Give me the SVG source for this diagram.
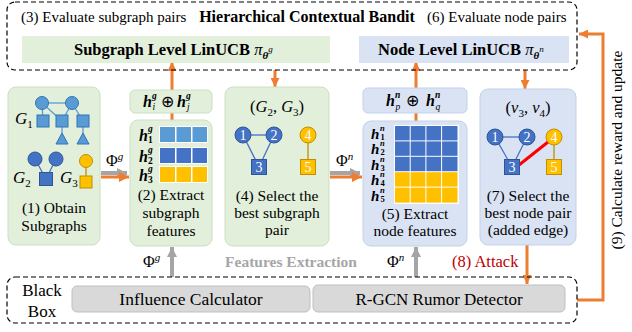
<svg xmlns="http://www.w3.org/2000/svg" width="632" height="332" viewBox="0 0 632 332" font-family="'Liberation Serif','Times New Roman',serif" font-size="15.5">
<style>
.t{font-family:'Liberation Serif','Times New Roman',serif;fill:#000}
.b{font-weight:bold}
.i{font-style:italic}
.bi{font-weight:bold;font-style:italic}
.dash{fill:none;stroke:#000;stroke-width:1.2;stroke-dasharray:5 3}
.gbox{fill:#e2efda;stroke:#cddfc0;stroke-width:1}
.bbox{fill:#dae3f3;stroke:#c3d1ea;stroke-width:1}
.kbox{fill:#d9d9d9;stroke:#bfbfbf;stroke-width:1}
.ol{stroke:#ed7d31;stroke-width:3;fill:none}
.gl{stroke:#a5a5a5;stroke-width:4;fill:none}
.e1{stroke:#5b9bd5;stroke-width:1.3}
.e2{stroke:#4472c4;stroke-width:1.3}
.e3{stroke:#bf9000;stroke-width:1.3}
.n1{fill:#5b9bd5;stroke:#2e75b6;stroke-width:1}
.n2{fill:#4472c4;stroke:#2f5597;stroke-width:1}
.n3{fill:#ffc000;stroke:#bf9000;stroke-width:1}
.num{font-family:'Liberation Serif','Times New Roman',serif;fill:#fff;text-anchor:middle}
.c1{fill:#5b9bd5}.c2{fill:#4472c4}.c3{fill:#ffc000}
</style>
<defs>
<marker id="ao" viewBox="0 0 10 10" refX="10" refY="5" markerWidth="10" markerHeight="9" markerUnits="userSpaceOnUse" orient="auto"><path d="M0,0 L10,5 L0,10 z" fill="#ed7d31"/></marker>
<marker id="ag" viewBox="0 0 10 10" refX="10" refY="5" markerWidth="10" markerHeight="11" markerUnits="userSpaceOnUse" orient="auto"><path d="M0,0 L10,5 L0,10 z" fill="#a5a5a5"/></marker>
<marker id="ao2" viewBox="0 0 10 10" refX="10" refY="5" markerWidth="10" markerHeight="11" markerUnits="userSpaceOnUse" orient="auto"><path d="M0,0 L10,5 L0,10 z" fill="#ed7d31"/></marker>
</defs>

<!-- connectors -->
<g id="connectors">
<line class="ol" x1="172" y1="120" x2="172" y2="62" marker-end="url(#ao)"/>
<line class="ol" x1="275" y1="70" x2="275" y2="87" marker-end="url(#ao)"/>
<line class="ol" x1="416" y1="121" x2="416" y2="62" marker-end="url(#ao)"/>
<line class="ol" x1="525" y1="70" x2="525" y2="89" marker-end="url(#ao)"/>
<line class="gl" x1="101" y1="173" x2="127" y2="173" marker-end="url(#ag)"/>
<line class="ol" x1="101" y1="177" x2="129" y2="177" stroke-width="4" marker-end="url(#ao2)"/>
<line class="gl" x1="330" y1="173" x2="360" y2="173" marker-end="url(#ag)"/>
<line class="ol" x1="330" y1="177" x2="362" y2="177" stroke-width="4" marker-end="url(#ao2)"/>
<line class="gl" x1="172" y1="277" x2="172" y2="247" marker-end="url(#ag)"/>
<line class="gl" x1="416" y1="277" x2="416" y2="247" marker-end="url(#ag)"/>
<line class="ol" x1="527" y1="245" x2="527" y2="284" marker-end="url(#ao)"/>
<path class="ol" d="M577,300 H603 V34 H579" marker-end="url(#ao)"/>
<text class="t" x="106" y="166" font-size="16">Φ<tspan class="i" font-size="11" dy="-6">g</tspan></text>
<text class="t" x="336" y="166" font-size="16">Φ<tspan class="i" font-size="11" dy="-6">n</tspan></text>
<text class="t" x="143" y="267" font-size="16">Φ<tspan class="i" font-size="11" dy="-6">g</tspan></text>
<text class="t" x="387" y="267" font-size="16">Φ<tspan class="i" font-size="11" dy="-6">n</tspan></text>
<text class="t" x="622" y="150" text-anchor="middle" font-size="15.5" transform="rotate(-90 622 150)">(9) Calculate reward and update</text>
<text class="t b" x="291" y="267" text-anchor="middle" font-size="15.5" style="fill:#a6a6a6">Features Extraction</text>
<text class="t" x="452" y="267" font-size="16.5" style="fill:#c00000">(8) Attack</text>
</g>

<!-- top bandit -->
<g id="bandit">
<rect class="dash" x="7" y="2" width="570" height="68" rx="8"/>
<text class="t" x="21" y="22" font-size="15">(3) Evaluate subgraph pairs</text>
<text class="t b" x="307" y="22" text-anchor="middle" font-size="16">Hierarchical Contextual Bandit</text>
<text class="t" x="427" y="22" font-size="15">(6) Evaluate node pairs</text>
</g>
<g id="subgraph-linucb">
<rect x="22" y="36" width="308" height="27" fill="#e2efda"/>
<text class="t b" x="74" y="55" font-size="16.5">Subgraph Level LinUCB <tspan class="i" font-weight="normal">π</tspan><tspan class="bi" font-size="11" dy="4">θ</tspan><tspan class="i" font-weight="normal" font-size="9" dy="-7">g</tspan></text>
</g>
<g id="node-linucb">
<rect x="359" y="36" width="210" height="27" fill="#dae3f3"/>
<text class="t b" x="378" y="55" font-size="16.5">Node Level LinUCB <tspan class="i" font-weight="normal">π</tspan><tspan class="bi" font-size="11" dy="4">θ</tspan><tspan class="i" font-weight="normal" font-size="9" dy="-7">n</tspan></text>
</g>

<!-- (1) obtain subgraphs -->
<g id="obtain">
<rect class="gbox" x="8" y="87" width="92" height="158" rx="8"/>
<g>
<line class="e1" x1="42" y1="103" x2="72" y2="103"/>
<line class="e1" x1="42" y1="103" x2="43" y2="121"/>
<line class="e1" x1="42" y1="103" x2="62" y2="121"/>
<line class="e1" x1="72" y1="103" x2="62" y2="121"/>
<line class="e1" x1="72" y1="103" x2="83" y2="121"/>
<line class="e1" x1="62" y1="121" x2="62" y2="139"/>
<line class="e1" x1="83" y1="121" x2="83" y2="139"/>
<circle class="n1" cx="42" cy="103" r="6.5"/>
<circle class="n1" cx="72" cy="103" r="6.5"/>
<rect class="n1" x="37" y="115" width="12" height="12"/>
<rect class="n1" x="56" y="115" width="12" height="12"/>
<rect class="n1" x="77" y="115" width="12" height="12"/>
<path class="n1" d="M62,133 L68,144 L56,144 z"/>
<path class="n1" d="M83,133 L89,144 L77,144 z"/>
</g>
<text class="t i" x="15" y="124" font-size="17">G<tspan font-size="11" dy="4" font-style="normal">1</tspan></text>
<g>
<line class="e2" x1="35" y1="159" x2="46" y2="179"/>
<line class="e2" x1="56" y1="159" x2="46" y2="179"/>
<circle class="n2" cx="35" cy="159" r="7"/>
<circle class="n2" cx="56" cy="159" r="7"/>
<rect class="n2" x="39.5" y="172.5" width="13" height="13"/>
<line class="e3" x1="86" y1="161" x2="86" y2="182"/>
<circle class="n3" cx="86" cy="161" r="6.5"/>
<rect class="n3" x="80" y="176" width="12" height="12"/>
</g>
<text class="t i" x="13" y="183" font-size="17">G<tspan font-size="11" dy="4" font-style="normal">2</tspan></text>
<text class="t i" x="60" y="183" font-size="17">G<tspan font-size="11" dy="4" font-style="normal">3</tspan></text>
<text class="t" x="54" y="213" text-anchor="middle">(1) Obtain</text>
<text class="t" x="54" y="231" text-anchor="middle">Subgraphs</text>
</g>

<!-- h_i ⊕ h_j -->
<g id="concat-g">
<rect class="gbox" x="130" y="90" width="82" height="23" rx="5"/>
<text class="t bi" x="143" y="107" font-size="16">h</text>
<text class="t bi" x="152" y="99" font-size="9.5">g</text>
<text class="t i" x="152.5" y="110" font-size="9.5">i</text>
<text class="t" x="161" y="107" font-size="16">⊕</text>
<text class="t bi" x="177" y="107" font-size="16">h</text>
<text class="t bi" x="186" y="99" font-size="9.5">g</text>
<text class="t i" x="187" y="110" font-size="9.5">j</text>
</g>

<!-- (2) extract subgraph features -->
<g id="extract-g">
<rect class="gbox" x="130" y="120" width="82" height="126" rx="8"/>
<rect x="159" y="126" width="49" height="17" fill="#fff"/>
<rect class="c1" x="160" y="127" width="15" height="15"/><rect class="c1" x="176.5" y="127" width="14.5" height="15"/><rect class="c1" x="192.5" y="127" width="14.5" height="15"/>
<rect x="159" y="147" width="49" height="17" fill="#fff"/>
<rect class="c2" x="160" y="148" width="15" height="15"/><rect class="c2" x="176.5" y="148" width="14.5" height="15"/><rect class="c2" x="192.5" y="148" width="14.5" height="15"/>
<rect x="159" y="166" width="49" height="17" fill="#fff"/>
<rect class="c3" x="160" y="167" width="15" height="15"/><rect class="c3" x="176.5" y="167" width="14.5" height="15"/><rect class="c3" x="192.5" y="167" width="14.5" height="15"/>
<text class="t bi" x="139" y="141" font-size="16">h</text><text class="t bi" x="148" y="132" font-size="9.5">g</text><text class="t b" x="148" y="143" font-size="9.5">1</text>
<text class="t bi" x="139" y="162" font-size="16">h</text><text class="t bi" x="148" y="153" font-size="9.5">g</text><text class="t b" x="148" y="164" font-size="9.5">2</text>
<text class="t bi" x="139" y="181" font-size="16">h</text><text class="t bi" x="148" y="172" font-size="9.5">g</text><text class="t b" x="148" y="183" font-size="9.5">3</text>
<text class="t" x="171" y="200" text-anchor="middle">(2) Extract</text>
<text class="t" x="171" y="218" text-anchor="middle">subgraph</text>
<text class="t" x="171" y="236" text-anchor="middle">features</text>
</g>

<!-- (4) select best subgraph pair -->
<g id="select-g">
<rect class="gbox" x="225" y="87" width="104" height="159" rx="8"/>
<text class="t" x="277" y="112" text-anchor="middle" font-size="16.5">(<tspan class="i">G</tspan><tspan font-size="11" dy="4">2</tspan><tspan dy="-4">, </tspan><tspan class="i">G</tspan><tspan font-size="11" dy="4">3</tspan><tspan dy="-4">)</tspan></text>
<line class="e2" x1="243" y1="135" x2="274" y2="135"/>
<line class="e2" x1="243" y1="135" x2="259" y2="167"/>
<line class="e2" x1="274" y1="135" x2="259" y2="167"/>
<line class="e3" x1="308" y1="135" x2="308" y2="167"/>
<circle class="n2" cx="243" cy="135" r="8"/><text class="num" x="243" y="140" font-size="14">1</text>
<circle class="n2" cx="274" cy="135" r="8"/><text class="num" x="274" y="140" font-size="14">2</text>
<rect class="n2" x="251.5" y="159.5" width="15" height="15"/><text class="num" x="259" y="172" font-size="14">3</text>
<circle class="n3" cx="308" cy="135" r="8"/><text class="num" x="308" y="140" font-size="14">4</text>
<rect class="n3" x="300.5" y="159.5" width="15" height="15"/><text class="num" x="308" y="172" font-size="14">5</text>
<text class="t" x="277" y="201" text-anchor="middle">(4) Select the</text>
<text class="t" x="277" y="218" text-anchor="middle">best subgraph</text>
<text class="t" x="277" y="235" text-anchor="middle">pair</text>
</g>

<!-- h_p ⊕ h_q -->
<g id="concat-n">
<rect class="bbox" x="363" y="88" width="104" height="25" rx="5"/>
<text class="t bi" x="386" y="106" font-size="16">h</text>
<text class="t bi" x="395" y="98" font-size="9.5">n</text>
<text class="t i" x="395.5" y="110" font-size="9.5">p</text>
<text class="t" x="406" y="106" font-size="16">⊕</text>
<text class="t bi" x="426" y="106" font-size="16">h</text>
<text class="t bi" x="435" y="98" font-size="9.5">n</text>
<text class="t i" x="435.5" y="110" font-size="9.5">q</text>
</g>

<!-- (5) extract node features -->
<g id="extract-n">
<rect class="bbox" x="363" y="121" width="104" height="125" rx="8"/>
<rect x="394" y="125" width="65" height="79" fill="#fff"/>
<g class="c2">
<rect x="395" y="126" width="14.7" height="14.4"/><rect x="410.7" y="126" width="14.7" height="14.4"/><rect x="426.4" y="126" width="14.7" height="14.4"/><rect x="442.1" y="126" width="15.4" height="14.4"/>
<rect x="395" y="141.4" width="14.7" height="14.4"/><rect x="410.7" y="141.4" width="14.7" height="14.4"/><rect x="426.4" y="141.4" width="14.7" height="14.4"/><rect x="442.1" y="141.4" width="15.4" height="14.4"/>
<rect x="395" y="156.8" width="14.7" height="14.4"/><rect x="410.7" y="156.8" width="14.7" height="14.4"/><rect x="426.4" y="156.8" width="14.7" height="14.4"/><rect x="442.1" y="156.8" width="15.4" height="14.4"/>
</g>
<g class="c3">
<rect x="395" y="172.2" width="14.7" height="14.4"/><rect x="410.7" y="172.2" width="14.7" height="14.4"/><rect x="426.4" y="172.2" width="14.7" height="14.4"/><rect x="442.1" y="172.2" width="15.4" height="14.4"/>
<rect x="395" y="187.6" width="14.7" height="15"/><rect x="410.7" y="187.6" width="14.7" height="15"/><rect x="426.4" y="187.6" width="14.7" height="15"/><rect x="442.1" y="187.6" width="15.4" height="15"/>
</g>
<text class="t bi" x="371" y="139" font-size="15">h</text><text class="t bi" x="380" y="131" font-size="8.5">n</text><text class="t b" x="380.5" y="140" font-size="8.5">1</text>
<text class="t bi" x="371" y="154.4" font-size="15">h</text><text class="t bi" x="380" y="146.4" font-size="8.5">n</text><text class="t b" x="380.5" y="155.4" font-size="8.5">2</text>
<text class="t bi" x="371" y="169.8" font-size="15">h</text><text class="t bi" x="380" y="161.8" font-size="8.5">n</text><text class="t b" x="380.5" y="170.8" font-size="8.5">3</text>
<text class="t bi" x="371" y="185.2" font-size="15">h</text><text class="t bi" x="380" y="177.2" font-size="8.5">n</text><text class="t b" x="380.5" y="186.2" font-size="8.5">4</text>
<text class="t bi" x="371" y="200.6" font-size="15">h</text><text class="t bi" x="380" y="192.6" font-size="8.5">n</text><text class="t b" x="380.5" y="201.6" font-size="8.5">5</text>
<text class="t" x="415" y="219" text-anchor="middle">(5) Extract</text>
<text class="t" x="415" y="236" text-anchor="middle">node features</text>
</g>

<!-- (7) select best node pair -->
<g id="select-n">
<rect class="bbox" x="480" y="89" width="96" height="156" rx="8"/>
<text class="t" x="528" y="113" text-anchor="middle" font-size="16.5">(<tspan class="i">v</tspan><tspan font-size="11" dy="4">3</tspan><tspan dy="-4">, </tspan><tspan class="i">v</tspan><tspan font-size="11" dy="4">4</tspan><tspan dy="-4">)</tspan></text>
<line class="e2" x1="495" y1="137" x2="527" y2="137"/>
<line class="e2" x1="495" y1="137" x2="512" y2="167"/>
<line class="e2" x1="527" y1="137" x2="512" y2="167"/>
<line class="e3" x1="554" y1="137" x2="554" y2="167"/>
<line x1="519" y1="165" x2="548" y2="142" stroke="#ff0000" stroke-width="3"/>
<circle class="n2" cx="495" cy="137" r="8"/><text class="num" x="495" y="142" font-size="14">1</text>
<circle class="n2" cx="527" cy="137" r="8"/><text class="num" x="527" y="142" font-size="14">2</text>
<rect class="n2" x="504.5" y="159.5" width="15" height="15"/><text class="num" x="512" y="172" font-size="14">3</text>
<circle class="n3" cx="554" cy="137" r="8"/><text class="num" x="554" y="142" font-size="14">4</text>
<rect class="n3" x="546.5" y="159.5" width="15" height="15"/><text class="num" x="554" y="172" font-size="14">5</text>
<text class="t" x="528" y="201" text-anchor="middle">(7) Select the</text>
<text class="t" x="528" y="218" text-anchor="middle">best node pair</text>
<text class="t" x="528" y="235" text-anchor="middle">(added edge)</text>
</g>

<!-- black box -->
<g id="blackbox">
<rect class="dash" x="7" y="277" width="570" height="46" rx="8"/>
<text class="t" x="42" y="296" text-anchor="middle" font-size="17">Black</text>
<text class="t" x="42" y="317" text-anchor="middle" font-size="17">Box</text>
</g>
<g id="influence">
<rect class="kbox" x="72" y="286" width="238" height="26" rx="5"/>
<text class="t" x="191" y="305" text-anchor="middle" font-size="17.5">Influence Calculator</text>
</g>
<g id="rgcn">
<rect class="kbox" x="313" y="285" width="252" height="27" rx="5"/>
<text class="t" x="439" y="305" text-anchor="middle" font-size="17">R-GCN Rumor Detector</text>
</g>
</svg>
